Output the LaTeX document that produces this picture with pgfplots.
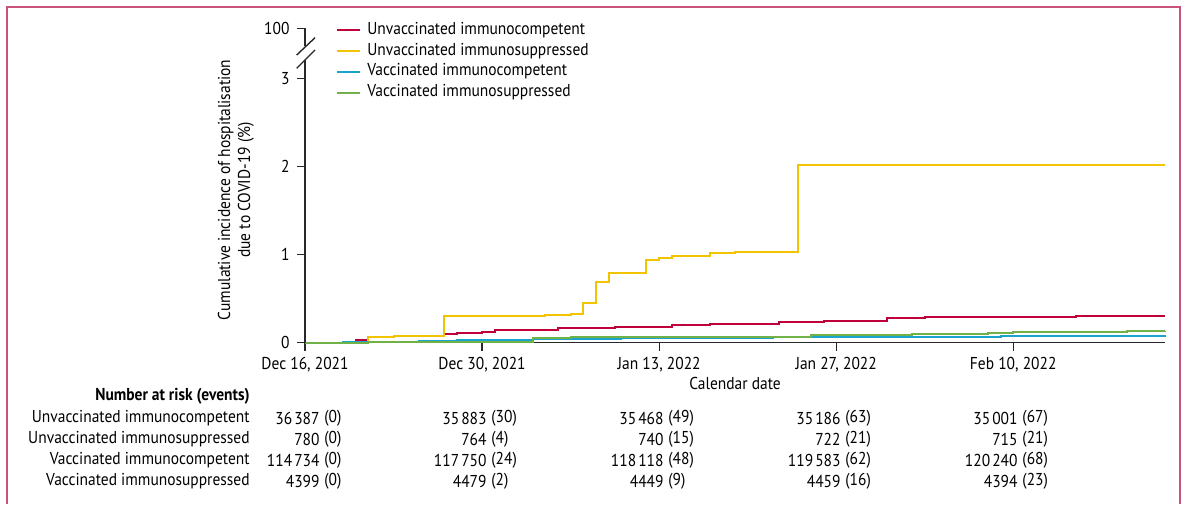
\documentclass[border=0pt]{standalone}
\usepackage{pgfplots}
\pgfplotsset{compat=1.18}
\usepackage{fontspec}
\setmainfont{PT Sans}[FakeStretch=0.9]
\definecolor{cred}{RGB}{192,0,58}
\definecolor{cyel}{RGB}{242,196,0}
\definecolor{cblu}{RGB}{26,163,204}
\definecolor{cgrn}{RGB}{112,178,72}
\definecolor{axgray}{RGB}{40,40,40}
\definecolor{frame}{RGB}{200,84,122}
\newcommand{\ts}{\kern0.12em}
\begin{document}
\begin{tikzpicture}[font=\fontsize{8.6}{10}\selectfont]
\path[use as bounding box] (0,0) rectangle (593.5pt,252pt);
\begin{axis}[
  at={(152.5pt,80.65pt)}, anchor=south west,
  scale only axis, width=430pt, height=157.2pt,
  xmin=0, xmax=68, ymin=0, ymax=3.566,
  axis x line*=bottom, axis y line*=left,
  y axis line style={draw=none},
  x axis line style={-, draw=axgray, line width=0.7pt},
  xtick={0,14,28,42,56},
  xticklabels={{Dec 16, 2021},{Dec 30, 2021},{Jan 13, 2022},{Jan 27, 2022},{Feb 10, 2022}},
  ytick={0,1,2,3,3.566}, yticklabels={0,1,2,3,100},
  tick align=outside, major tick length=4.2pt,
  tick style={draw=axgray, line width=0.6pt},
  /pgf/number format/assume math mode=true,
  ticklabel style={font=\fontsize{8.6}{10}\selectfont},
  xticklabel style={yshift=0.5pt},
  clip=false,
  xlabel={Calendar date},
  every axis x label/.style={at={(axis description cs:0.5,0)}, anchor=center, yshift=-20.2pt},
  legend style={at={(rel axis cs:0.0355,1.0205)}, anchor=north west, draw=none, fill=none,
    inner sep=0pt, row sep=2.4pt, column sep=3.2pt,
    nodes={inner sep=0pt, text height=6pt, text depth=2pt, anchor=west}},
  legend cell align=left,
  legend image code/.code={\draw[#1] (0pt,0pt) -- (11.5pt,0pt);},
  every axis plot/.append style={line width=1pt, const plot, no markers},
]
\addplot[cred] coordinates {(0,0)(3,0.01)(4,0.03)(5,0.06)(7,0.08)(11,0.094)(12,0.11)(14,0.125)(15,0.145)(20,0.165)(24.5,0.178)(29,0.196)(32,0.215)(37.5,0.234)(41,0.25)(46,0.28)(49,0.287)(51,0.292)(61,0.302)(68,0.302)};
\addlegendentry{Unvaccinated immunocompetent}
\addplot[cyel] coordinates {(0,0)(5,0.065)(7,0.08)(11,0.30)(19,0.317)(21,0.33)(22,0.445)(23,0.687)(24,0.79)(27,0.94)(28,0.966)(29,0.985)(32,1.02)(34,1.03)(39,2.01)(68,2.01)};
\addlegendentry{Unvaccinated immunosuppressed}
\addplot[cblu] coordinates {(0,0)(3,0.004)(6,0.01)(9,0.017)(12,0.025)(15,0.032)(18,0.04)(21,0.046)(25,0.051)(30,0.056)(37,0.064)(45,0.07)(55,0.077)(62,0.081)(68,0.083)};
\addlegendentry{Vaccinated immunocompetent}
\addplot[cgrn] coordinates {(0,0)(5,0.004)(10,0.008)(14,0.012)(18,0.05)(21,0.062)(27,0.065)(34,0.068)(40,0.086)(48,0.095)(54,0.11)(56,0.124)(65,0.13)(68,0.132)};
\addlegendentry{Vaccinated immunosuppressed}
\end{axis}
\begin{scope}[x=0.5pt,y=-0.5pt,yshift=252pt]
  % frame
  \draw[frame, line width=0.8pt] (7,504) -- (7,7) -- (1180,7) -- (1180,504);
  % broken y axis
  \draw[axgray, line width=0.7pt] (305,28.3) -- (305,46);
  \draw[axgray, line width=0.7pt] (305,60) -- (305,342.7);
  \draw[axgray, line width=0.7pt] (296.7,55) -- (315,37.7);
  \draw[axgray, line width=0.7pt] (296.7,68.3) -- (315,50);
  % y label
  \node[rotate=90, align=center, inner sep=0pt] at (236,190) {Cumulative incidence of hospitalisation\\due to COVID-19 (\%)};
  % risk table
  \begin{scope}[every node/.style={inner sep=0pt}]
  \node[anchor=east, font=\fontsize{8.6}{10}\selectfont\bfseries] at (250,396) {Number at risk (events)};
  \node[anchor=east] at (250,418) {Unvaccinated immunocompetent};
  \node[anchor=east] at (250,439) {Unvaccinated immunosuppressed};
  \node[anchor=east] at (250,460) {Vaccinated immunocompetent};
  \node[anchor=east] at (250,481) {Vaccinated immunosuppressed};
  % column 1
  \node[anchor=east] at (320,418) {36\ts387}; \node[anchor=west] at (324,418) {(0)};
  \node[anchor=east] at (320,439) {780};     \node[anchor=west] at (324,439) {(0)};
  \node[anchor=east] at (320,460) {114\ts734};\node[anchor=west] at (324,460) {(0)};
  \node[anchor=east] at (320,481) {4399};    \node[anchor=west] at (324,481) {(0)};
  % column 2
  \node[anchor=east] at (487,418) {35\ts883}; \node[anchor=west] at (491,418) {(30)};
  \node[anchor=east] at (487,439) {764};     \node[anchor=west] at (491,439) {(4)};
  \node[anchor=east] at (487,460) {117\ts750};\node[anchor=west] at (491,460) {(24)};
  \node[anchor=east] at (487,481) {4479};    \node[anchor=west] at (491,481) {(2)};
  % column 3
  \node[anchor=east] at (664,418) {35\ts468}; \node[anchor=west] at (668,418) {(49)};
  \node[anchor=east] at (664,439) {740};     \node[anchor=west] at (668,439) {(15)};
  \node[anchor=east] at (664,460) {118\ts118};\node[anchor=west] at (668,460) {(48)};
  \node[anchor=east] at (664,481) {4449};    \node[anchor=west] at (668,481) {(9)};
  % column 4
  \node[anchor=east] at (841,418) {35\ts186}; \node[anchor=west] at (845,418) {(63)};
  \node[anchor=east] at (841,439) {722};     \node[anchor=west] at (845,439) {(21)};
  \node[anchor=east] at (841,460) {119\ts583};\node[anchor=west] at (845,460) {(62)};
  \node[anchor=east] at (841,481) {4459};    \node[anchor=west] at (845,481) {(16)};
  % column 5
  \node[anchor=east] at (1018,418) {35\ts001}; \node[anchor=west] at (1022,418) {(67)};
  \node[anchor=east] at (1018,439) {715};     \node[anchor=west] at (1022,439) {(21)};
  \node[anchor=east] at (1018,460) {120\ts240};\node[anchor=west] at (1022,460) {(68)};
  \node[anchor=east] at (1018,481) {4394};    \node[anchor=west] at (1022,481) {(23)};
  \end{scope}
\end{scope}
\end{tikzpicture}
\end{document}
